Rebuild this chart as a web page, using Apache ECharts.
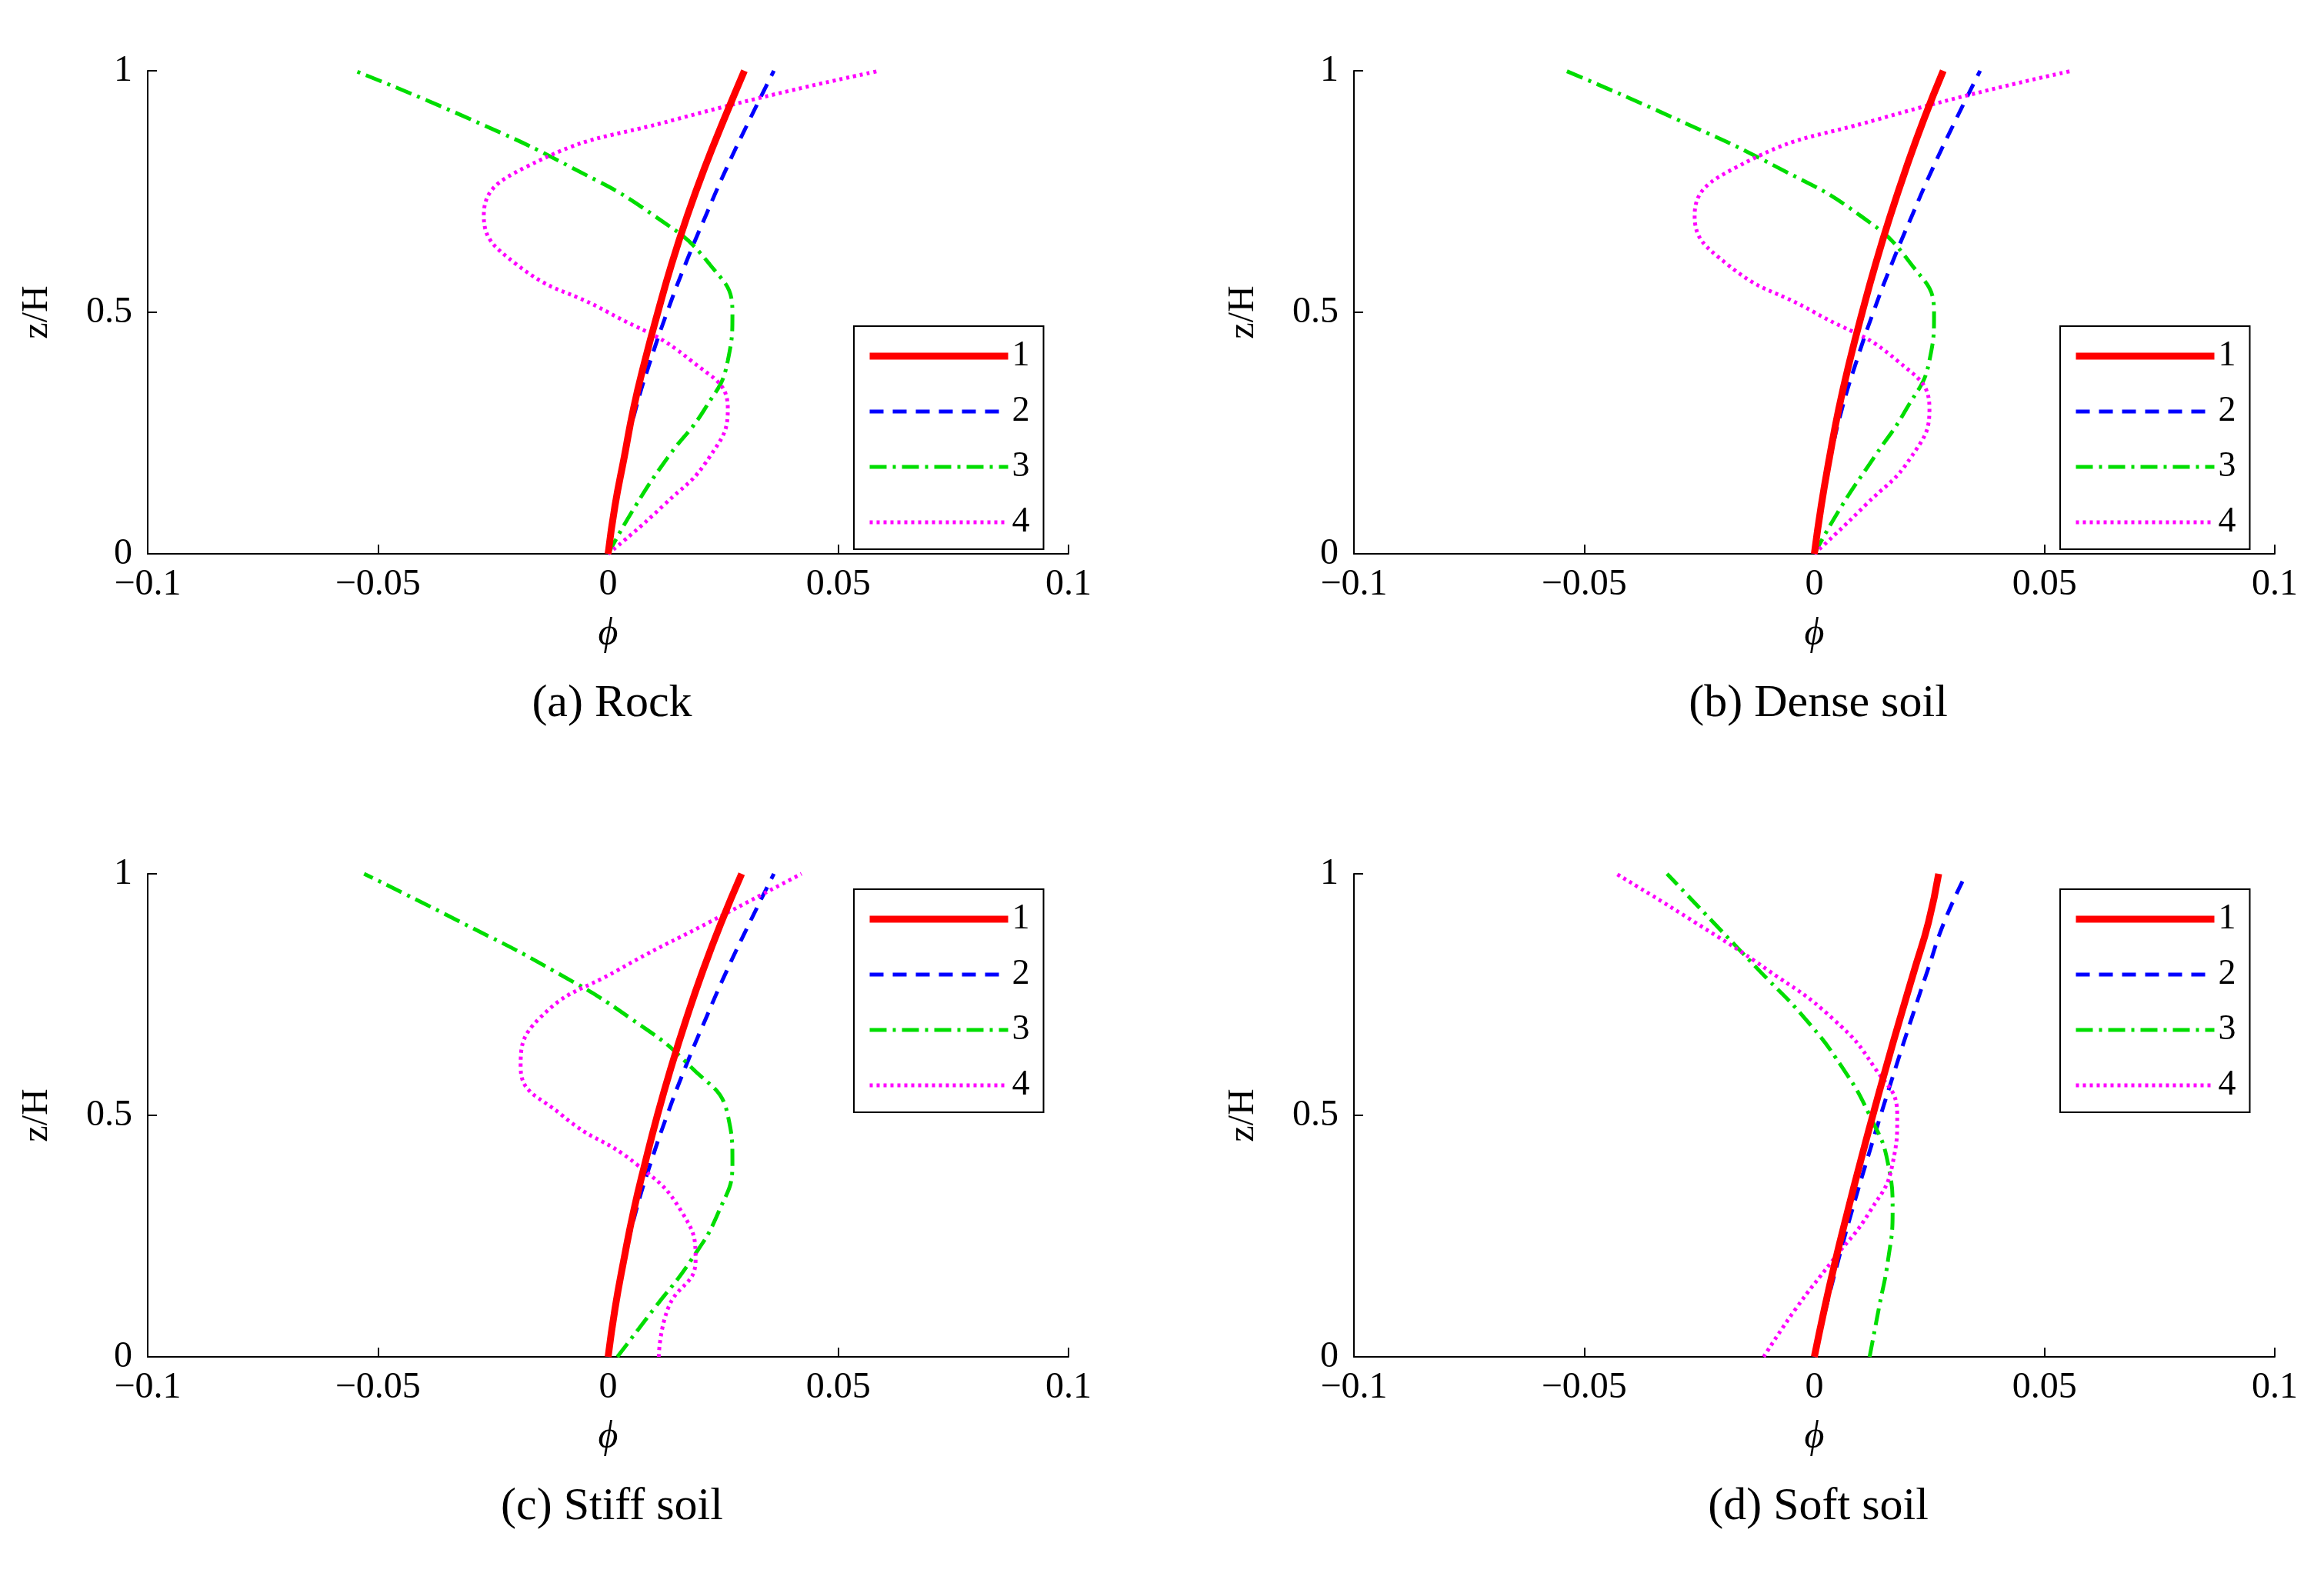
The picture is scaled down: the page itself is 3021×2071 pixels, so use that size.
<!DOCTYPE html>
<html><head><meta charset="utf-8">
<script src="https://cdn.jsdelivr.net/npm/echarts@6/dist/echarts.min.js"></script>
<style>html,body{margin:0;background:#fff}#c{width:3021px;height:2071px}</style>
</head><body><div id="c"></div>
<script>
// z/H levels shared by all curves
const zLevels = [0, 0.1, 0.2, 0.3, 0.4, 0.5, 0.6, 0.7, 0.8, 0.9, 1];
const panelTitles = ['(a) Rock', '(b) Dense soil', '(c) Stiff soil', '(d) Soft soil'];
const modeNames = ['1', '2', '3', '4'];

// phi values per mode at zLevels
const rockPhi = [
  [0, 0.0015, 0.0035, 0.0055, 0.0080, 0.0108, 0.0138, 0.0172, 0.0210, 0.0252, 0.0296],
  [0, 0.0015, 0.0035, 0.0060, 0.0092, 0.0128, 0.0168, 0.0212, 0.0258, 0.0308, 0.0360],
  [0, 0.006, 0.013, 0.021, 0.026, 0.027, 0.022, 0.010, -0.008, -0.030, -0.055],
  [0, 0.012, 0.022, 0.026, 0.018, 0.000, -0.020, -0.027, -0.018, 0.015, 0.059]
];
const denseSoilPhi = [
  [0, 0.0015, 0.0033, 0.0053, 0.0077, 0.0104, 0.0133, 0.0165, 0.0200, 0.0238, 0.0280],
  [0, 0.0015, 0.0035, 0.0060, 0.0092, 0.0128, 0.0168, 0.0212, 0.0258, 0.0308, 0.0360],
  [0, 0.006, 0.013, 0.020, 0.025, 0.026, 0.021, 0.010, -0.008, -0.030, -0.054],
  [0, 0.011, 0.021, 0.025, 0.018, 0.000, -0.019, -0.026, -0.017, 0.014, 0.056]
];
const stiffSoilPhi = [
  [0, 0.0015, 0.0034, 0.0055, 0.0080, 0.0107, 0.0137, 0.0170, 0.0206, 0.0246, 0.0290],
  [0, 0.0015, 0.0035, 0.0060, 0.0092, 0.0128, 0.0168, 0.0212, 0.0258, 0.0308, 0.0360],
  [0.002, 0.010, 0.018, 0.024, 0.027, 0.026, 0.018, 0.005, -0.012, -0.032, -0.053],
  [0.011, 0.013, 0.019, 0.016, 0.006, -0.010, -0.019, -0.015, 0.002, 0.022, 0.042]
];
const softSoilPhi = [
  [0, 0.0022, 0.0046, 0.0072, 0.0099, 0.0127, 0.0156, 0.0186, 0.0217, 0.0248, 0.0270],
  [0, 0.0025, 0.0052, 0.0081, 0.0112, 0.0144, 0.0177, 0.0211, 0.0246, 0.0282, 0.0330],
  [0.012, 0.014, 0.016, 0.017, 0.016, 0.012, 0.006, -0.002, -0.012, -0.022, -0.032],
  [-0.011, -0.004, 0.004, 0.012, 0.017, 0.018, 0.013, 0.004, -0.010, -0.026, -0.043]
];
const panels = [rockPhi, denseSoilPhi, stiffSoilPhi, softSoilPhi];

const font = 'Liberation Serif';
const styles = [
  { color: '#ff0000', width: 9, type: 'solid' },
  { color: '#0000ff', width: 5, type: [18, 12] },
  { color: '#00dd00', width: 5, type: [22, 8, 4, 8] },
  { color: '#ff00ff', width: 5, type: [4, 5] }
];
const boxes = [
  { left: 192, top: 92 }, { left: 1760, top: 92 },
  { left: 192, top: 1136 }, { left: 1760, top: 1136 }
];
const W = 1197, H = 628;

const fmt = v => (v < 0 ? '\u2212' + String(-v) : String(v));
const grid = [], xAxis = [], yAxis = [], series = [], legend = [], title = [];
boxes.forEach((b, i) => {
  grid.push({ left: b.left, top: b.top, width: W, height: H });
  xAxis.push({
    gridIndex: i, type: 'value', min: -0.1, max: 0.1, interval: 0.05,
    name: 'ϕ', nameLocation: 'middle', nameGap: 80,
    nameTextStyle: { fontFamily: font, fontSize: 50, fontStyle: 'italic', color: '#000' },
    axisLine: { onZero: false, lineStyle: { color: '#000', width: 2 } },
    axisTick: { inside: true, length: 12, lineStyle: { color: '#000', width: 2 } },
    axisLabel: { formatter: fmt, fontFamily: font, fontSize: 48, color: '#000', margin: 16 },
    splitLine: { show: false }
  });
  yAxis.push({
    gridIndex: i, type: 'value', min: 0, max: 1, interval: 0.5,
    name: 'z/H', nameLocation: 'middle', nameGap: 120, nameRotate: 90,
    nameTextStyle: { fontFamily: font, fontSize: 48, color: '#000' },
    axisLine: { onZero: false, lineStyle: { color: '#000', width: 2 } },
    axisTick: { inside: true, length: 12, lineStyle: { color: '#000', width: 2 } },
    axisLabel: { fontFamily: font, fontSize: 48, color: '#000', margin: 20 },
    splitLine: { show: false }
  });
  panels[i].forEach((vals, m) => {
    series.push({
      type: 'line', name: modeNames[m], xAxisIndex: i, yAxisIndex: i,
      data: vals.map((v, k) => [v, zLevels[k]]),
      smooth: 0.5, symbol: 'none', lineStyle: styles[m], color: styles[m].color,
      z: m === 0 ? 5 : 3
    });
  });
  legend.push({
    orient: 'vertical', left: b.left + 918, top: b.top + (i < 2 ? 332 : 20),
    data: modeNames.map((n, m) => ({
      name: n, itemStyle: { opacity: 0 },
      lineStyle: { width: styles[m].width, type: styles[m].type, color: styles[m].color }
    })),
    itemWidth: 180, itemHeight: 20, itemGap: 26,
    borderColor: '#000', borderWidth: 2, padding: [16, 18, 12, 16],
    textStyle: { fontFamily: font, fontSize: 46, color: '#000' },
    selectedMode: false
  });
  title.push({
    text: panelTitles[i], left: b.left + W / 2, top: b.top + H + 160, textAlign: 'center',
    textStyle: { fontFamily: font, fontSize: 60, fontWeight: 'normal', color: '#000' }
  });
});

const chart = echarts.init(document.getElementById('c'));
chart.setOption({ animation: false, backgroundColor: '#fff', title, grid, xAxis, yAxis, series, legend });
</script></body></html>
